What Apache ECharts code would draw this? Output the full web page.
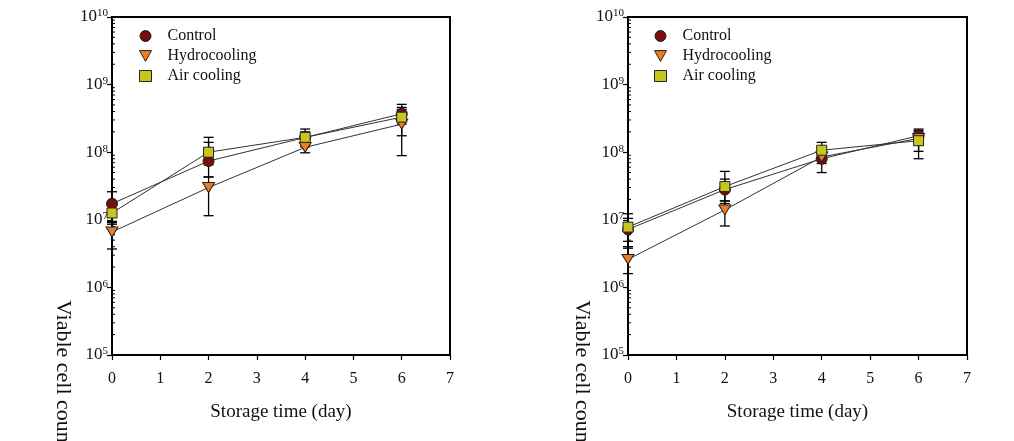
<!DOCTYPE html>
<html>
<head>
<meta charset="utf-8">
<script src="https://cdn.jsdelivr.net/npm/echarts@6/dist/echarts.min.js"></script>
<style>
html,body{margin:0;padding:0;background:#fff;}
#chart{width:1014px;height:441px;}
</style>
</head>
<body>
<div id="chart"></div>
<script>
// ---- data ----
const days = [0, 2, 4, 6];
const seriesNames = ['Control', 'Hydrocooling', 'Air cooling'];
const xTicks = [0, 1, 2, 3, 4, 5, 6, 7];
const yDecades = [1e5, 1e6, 1e7, 1e8, 1e9, 1e10];

// Left panel
const leftControl = [1.73e7, 7.4e7, 1.65e8, 3.7e8];
const leftControlLow = [8.6e6, 4.3e7, 1.2e8, 2.6e8];
const leftControlHigh = [2.6e7, 1.4e8, 2.0e8, 5.1e8];
const leftHydro = [6.6e6, 3.0e7, 1.18e8, 2.6e8];
const leftHydroLow = [3.7e6, 1.15e7, 9.8e7, 8.9e7];
const leftHydroHigh = [9.5e6, 4.3e7, 1.4e8, 4.3e8];
const leftAir = [1.26e7, 1.0e8, 1.66e8, 3.3e8];
const leftAirLow = [9.1e6, 6.5e7, 1.3e8, 1.75e8];
const leftAirHigh = [1.6e7, 1.66e8, 2.2e8, 4.6e8];

// Right panel
const rightControl = [7.2e6, 2.8e7, 8.0e7, 1.75e8];
const rightControlLow = [4.0e6, 1.9e7, 6.8e7, 1.3e8];
const rightControlHigh = [1.05e7, 4.0e7, 9.5e7, 2.2e8];
const rightHydro = [2.6e6, 1.4e7, 8.5e7, 1.6e8];
const rightHydroLow = [1.6e6, 8.1e6, 5.0e7, 8.0e7];
const rightHydroHigh = [3.8e6, 1.9e7, 1.2e8, 2.1e8];
const rightAir = [7.8e6, 3.1e7, 1.07e8, 1.48e8];
const rightAirLow = [4.8e6, 1.74e7, 8.0e7, 1.03e8];
const rightAirHigh = [1.23e7, 5.2e7, 1.4e8, 2.0e8];

const xTitle = 'Storage time (day)';
const yTitle = 'Viable cell count (CFU/g)';

// ---- styles ----
const FONT = '"Liberation Serif", "Times New Roman", serif';
const colors = { 'Control': '#7a0c0c', 'Hydrocooling': '#ef7d22', 'Air cooling': '#c6c61e' };
const symbols = {
  'Control': 'circle',
  'Hydrocooling': 'path://M0,0 L10,0 L5,9 Z',
  'Air cooling': 'rect'
};
const symbolSizes = { 'Control': 11, 'Hydrocooling': [12, 11], 'Air cooling': 10 };

// minor tick values (2..9 of each decade)
const minorVals = [];
for (let d = 0; d < yDecades.length - 1; d++) {
  for (let m = 2; m <= 9; m++) minorVals.push(yDecades[d] * m);
}

const chart = echarts.init(document.getElementById('chart'), null, { renderer: 'canvas' });

const grids = [
  { left: 112, top: 17, width: 338, height: 338 },
  { left: 628, top: 17, width: 339, height: 338 }
];

function xAxisCfg(i) {
  return {
    type: 'value', gridIndex: i, min: 0, max: 7, interval: 1,
    axisLine: { show: true, lineStyle: { color: '#000', width: 2 } },
    axisTick: { show: true, inside: false, length: 5, lineStyle: { color: '#000', width: 1.2 } },
    axisLabel: { color: '#111', fontFamily: FONT, fontSize: 16, margin: 16, formatter: v => String(v) },
    splitLine: { show: false },
    name: xTitle, nameLocation: 'middle', nameGap: 48,
    nameTextStyle: { color: '#111', fontFamily: FONT, fontSize: 19 }
  };
}
function yAxisCfg(i) {
  return {
    type: 'log', logBase: 10, gridIndex: i, min: 1e5, max: 1e10,
    axisLine: { show: true, lineStyle: { color: '#000', width: 2 } },
    axisTick: { show: true, inside: false, length: 5, lineStyle: { color: '#000', width: 1.2 } },
    axisLabel: {
      margin: 4,
      formatter: v => '{b|10}{s|' + Math.round(Math.log10(v)) + '}',
      rich: {
        b: { fontFamily: FONT, fontSize: 17, color: '#111', lineHeight: 18 },
        s: { fontFamily: FONT, fontSize: 11, color: '#111', lineHeight: 18, verticalAlign: 'top', padding: [0, 0, 8, 0] }
      }
    },
    splitLine: { show: false }
  };
}

function errSeries(name, i, low, high) {
  return {
    type: 'custom', name: name, xAxisIndex: i, yAxisIndex: i, z: 1, silent: true,
    data: days.map((d, k) => [d, low[k], high[k]]),
    encode: { x: 0, y: [1, 2] },
    renderItem: function (params, api) {
      const p1 = api.coord([api.value(0), api.value(1)]);
      const p2 = api.coord([api.value(0), api.value(2)]);
      const hw = 5;
      const st = { stroke: '#000', lineWidth: 1.3 };
      return {
        type: 'group', children: [
          { type: 'line', shape: { x1: p1[0], y1: p1[1], x2: p2[0], y2: p2[1] }, style: st },
          { type: 'line', shape: { x1: p1[0] - hw, y1: p1[1], x2: p1[0] + hw, y2: p1[1] }, style: st },
          { type: 'line', shape: { x1: p2[0] - hw, y1: p2[1], x2: p2[0] + hw, y2: p2[1] }, style: st }
        ]
      };
    }
  };
}
function lineSeries(name, i, vals) {
  return {
    type: 'line', name: name, xAxisIndex: i, yAxisIndex: i, z: 3,
    data: days.map((d, k) => [d, vals[k]]),
    symbol: symbols[name], symbolSize: symbolSizes[name], symbolKeepAspect: true,
    showAllSymbol: true,
    lineStyle: { color: '#333', width: 1 },
    itemStyle: { color: colors[name], borderColor: '#222', borderWidth: 1 },
    emphasis: { disabled: true },
    animation: false
  };
}
function minorSeries(i) {
  return {
    type: 'custom', xAxisIndex: i, yAxisIndex: i, silent: true, z: 0, clip: false,
    data: minorVals.map(v => [0, v]),
    encode: { x: 0, y: 1 },
    renderItem: function (params, api) {
      const p = api.coord([0, api.value(1)]);
      return { type: 'line', shape: { x1: p[0], y1: p[1], x2: p[0] + 3, y2: p[1] }, style: { stroke: '#000', lineWidth: 1 } };
    }
  };
}

const panels = [
  { c: leftControl, cl: leftControlLow, ch: leftControlHigh, h: leftHydro, hl: leftHydroLow, hh: leftHydroHigh, a: leftAir, al: leftAirLow, ah: leftAirHigh },
  { c: rightControl, cl: rightControlLow, ch: rightControlHigh, h: rightHydro, hl: rightHydroLow, hh: rightHydroHigh, a: rightAir, al: rightAirLow, ah: rightAirHigh }
];

const series = [];
panels.forEach((p, i) => {
  series.push(minorSeries(i));
  series.push(errSeries('Control', i, p.cl, p.ch));
  series.push(errSeries('Hydrocooling', i, p.hl, p.hh));
  series.push(errSeries('Air cooling', i, p.al, p.ah));
  series.push(lineSeries('Control', i, p.c));
  series.push(lineSeries('Hydrocooling', i, p.h));
  series.push(lineSeries('Air cooling', i, p.a));
});

function legendCfg(left) {
  return {
    orient: 'vertical', left: left, top: 23, itemWidth: 12, itemHeight: 11, itemGap: 4,
    selectedMode: false,
    data: seriesNames.map(n => ({ name: n, icon: symbols[n], itemStyle: { color: colors[n], borderColor: '#222', borderWidth: 1 } })),
    textStyle: { fontFamily: FONT, fontSize: 16, color: '#111', padding: [0, 0, 0, 11] }
  };
}

const option = {
  backgroundColor: '#fff',
  animation: false,
  grid: grids.map(g => Object.assign({ show: true, borderColor: '#000', borderWidth: 2, backgroundColor: 'transparent' }, g)),
  xAxis: [xAxisCfg(0), xAxisCfg(1)],
  yAxis: [yAxisCfg(0), yAxisCfg(1)],
  legend: [legendCfg(134), legendCfg(649)],
  graphic: [
    { type: 'text', x: 63, y: 300, rotation: -Math.PI / 2, style: { text: yTitle, fontFamily: FONT, fontSize: 22, fill: '#111', textAlign: 'left', textVerticalAlign: 'middle' } },
    { type: 'text', x: 582, y: 300, rotation: -Math.PI / 2, style: { text: yTitle, fontFamily: FONT, fontSize: 22, fill: '#111', textAlign: 'left', textVerticalAlign: 'middle' } }
  ],
  series: series
};
chart.setOption(option);
</script>
</body>
</html>
